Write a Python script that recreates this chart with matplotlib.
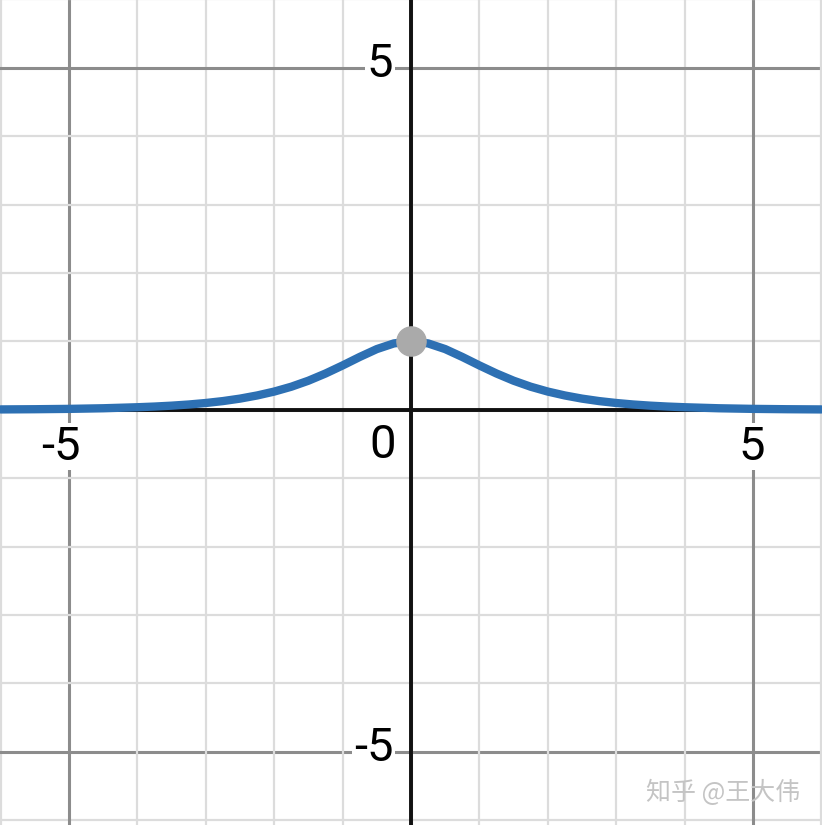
import numpy as np
import matplotlib
matplotlib.use("Agg")
import matplotlib.pyplot as plt

# curva (pico en x=0, y=1)
xs = [-6.0, -5.5, -5.0, -4.5, -4.0, -3.75, -3.5, -3.25, -3.0, -2.75, -2.5, -2.25,
      -2.0, -1.75, -1.5, -1.25, -1.0, -0.75, -0.5, -0.25, 0.0,
      0.25, 0.5, 0.75, 1.0, 1.25, 1.5, 1.75, 2.0, 2.25, 2.5, 2.75,
      3.0, 3.25, 3.5, 3.75, 4.0, 4.5, 5.0, 5.5, 6.0]
ys = [0.005, 0.008, 0.013, 0.022, 0.037, 0.047, 0.060, 0.077, 0.099, 0.127, 0.163, 0.209,
      0.266, 0.337, 0.425, 0.530, 0.648, 0.772, 0.887, 0.970, 1.0,
      0.970, 0.887, 0.772, 0.648, 0.530, 0.425, 0.337, 0.266, 0.209, 0.163, 0.127,
      0.099, 0.077, 0.060, 0.047, 0.037, 0.022, 0.013, 0.008, 0.005]
peak_x, peak_y = [0.0], [1.0]
tick_vals = [-5, 5]

fig = plt.figure(figsize=(8.22, 8.25), dpi=100)
ax = fig.add_axes([0, 0, 1, 1])
ax.set_xlim(-6.01, 6.01)
ax.set_ylim(-6.07, 5.99)
ax.axis("off")

# cuadrícula menor y mayor
for v in range(-7, 8):
    major = v % 5 == 0
    col = "#8c8c8c" if major else "#dcdcdc"
    lw = 2.2 if major else 1.6
    ax.axvline(v, color=col, lw=lw, zorder=0)
    ax.axhline(v, color=col, lw=lw, zorder=0)

ax.axhline(0, color="#111111", lw=2.8, zorder=1)
ax.axvline(0, color="#111111", lw=2.8, zorder=1)

ax.plot(xs, ys, color="#2d70b3", lw=6.0, solid_capstyle="round", zorder=3)
ax.plot(peak_x, peak_y, "o", color="#aaaaaa", ms=21, zorder=4)

bb = dict(facecolor="white", edgecolor="none", pad=1)
fs = 34
fam = ["Roboto", "DejaVu Sans"]
dw = 0.175  # medio ancho de un dígito, en unidades
for v in tick_vals:
    lab = f"-{abs(v)}" if v < 0 else f"{v}"
    # eje x: el dígito centrado en la línea
    ax.text(v + dw, -0.22, lab, ha="right", va="top", fontsize=fs, family=fam,
            bbox=bb, zorder=2)
    # eje y
    ax.text(-0.26, v + 0.06, lab, ha="right", va="center", fontsize=fs, family=fam,
            bbox=bb, zorder=2)
ax.text(-0.22, -0.2, "0", ha="right", va="top", fontsize=fs, family=fam, bbox=bb, zorder=2)

ax.text(0.974, 0.023, "知乎 @王大伟", transform=ax.transAxes, ha="right", va="bottom",
        fontsize=18, color="#c4c4c4", family=["Noto Sans CJK SC", "DejaVu Sans"], zorder=5)

fig.savefig("out.png", dpi=100)
